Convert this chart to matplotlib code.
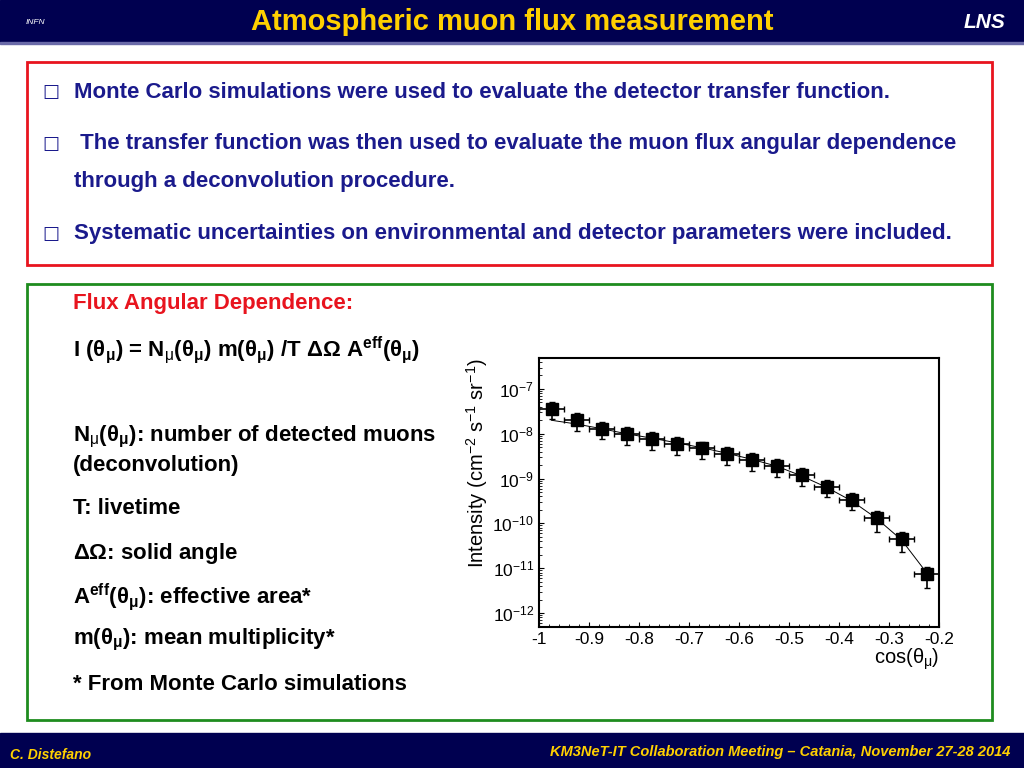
import numpy as np
import matplotlib.pyplot as plt
from matplotlib.patches import Rectangle

plt.rcParams['font.family'] = ['Liberation Sans', 'DejaVu Sans']
plt.rcParams['mathtext.fontset'] = 'custom'
plt.rcParams['mathtext.rm'] = 'Liberation Sans'
plt.rcParams['mathtext.it'] = 'Liberation Sans'
plt.rcParams['mathtext.bf'] = 'Liberation Sans:bold'

## Data ##
cos_theta = np.arange(-0.975, -0.2, 0.05)
intensity = np.array([3.6e-8, 2.0e-8, 1.3e-8, 9.8e-9, 7.6e-9, 5.9e-9, 4.7e-9, 3.5e-9,
                      2.6e-9, 1.9e-9, 1.2e-9, 6.6e-10, 3.4e-10, 1.3e-10, 4.6e-11, 7.4e-12])
err_up = intensity * 0.42
err_dn = intensity * 0.42
err_dn[-3:] = intensity[-3:] * 0.5
model = np.array([2.0e-8, 1.65e-8, 1.3e-8, 1.0e-8, 8.0e-9, 6.3e-9, 4.9e-9, 3.7e-9,
                  2.7e-9, 1.9e-9, 1.15e-9, 6.4e-10, 3.2e-10, 1.3e-10, 4.3e-11, 8.0e-12])

W, H = 1024, 768
fig = plt.figure(figsize=(10.24, 7.68), dpi=100)
navy = '#000050'

def fx(px): return px / W
def fy(py): return 1 - py / H

## Slide decoration ##
fig.patches.append(Rectangle((0, fy(42)), 1, 42 / H, transform=fig.transFigure, color=navy))
fig.patches.append(Rectangle((0, fy(44)), 1, 2 / H, transform=fig.transFigure, color='#6a6aa8'))
fig.patches.append(Rectangle((0, 0), 1, 35 / H, transform=fig.transFigure, color=navy))
fig.patches.append(Rectangle((fx(27), fy(265)), fx(965), 203 / H, transform=fig.transFigure,
                             fill=False, ec='#e8141e', lw=2))
fig.patches.append(Rectangle((fx(27), fy(720)), fx(965), 436 / H, transform=fig.transFigure,
                             fill=False, ec='#1e8c1e', lw=2))

fig.text(fx(512), fy(22), 'Atmospheric muon flux measurement', color='#ffd000',
         fontsize=21, fontweight='bold', ha='center', va='center')
fig.text(fx(985), fy(22), 'LNS', color='white', fontsize=15, fontweight='bold',
         style='italic', ha='center', va='center')
fig.text(fx(35), fy(22), 'INFN', color='white', fontsize=6, style='italic', ha='center', va='center')
fig.text(fx(10), fy(755), 'C. Distefano', color='#ffd000', fontsize=10, fontweight='bold',
         style='italic', va='center')
fig.text(fx(1010), fy(752), 'KM3NeT-IT Collaboration Meeting \u2013 Catania, November 27-28 2014',
         color='#ffd000', fontsize=10.5, fontweight='bold', style='italic', ha='right', va='center')

blue = '#1a1a8c'
fs = 16
bullets = [(92, 'Monte Carlo simulations were used to evaluate the detector transfer function.'),
           (144, ' The transfer function was then used to evaluate the muon flux angular dependence'),
           (234, 'Systematic uncertainties on environmental and detector parameters were included.')]
for py, t in bullets:
    fig.text(fx(42), fy(py), '\u25a1', color=blue, fontsize=13, va='center',
             family=['DejaVu Sans'])
    fig.text(fx(74), fy(py), t, color=blue, fontsize=fs, fontweight='bold', va='center')
fig.text(fx(74), fy(182), 'through a deconvolution procedure.', color=blue, fontsize=fs,
         fontweight='bold', va='center')

fig.text(fx(73), fy(304), 'Flux Angular Dependence:', color='#e8141e', fontsize=fs,
         fontweight='bold', va='center')
left_lines = [
    (350, r'I ($\mathbf{\theta_\mu}$) = N$_\mu$($\mathbf{\theta_\mu}$) m($\mathbf{\theta_\mu}$) /T $\mathbf{\Delta\Omega}$ A$^{\mathbf{eff}}$($\mathbf{\theta_\mu}$)'),
    (437, r'N$_\mu$($\mathbf{\theta_\mu}$): number of detected muons'),
    (466, '(deconvolution)'),
    (509, 'T: livetime'),
    (553, r'$\mathbf{\Delta\Omega}$: solid angle'),
    (597, r'A$^{\mathbf{eff}}$($\mathbf{\theta_\mu}$): effective area*'),
    (640, r'm($\mathbf{\theta_\mu}$): mean multiplicity*'),
    (684, '* From Monte Carlo simulations'),
]
for py, t in left_lines:
    fig.text(fx(73), fy(py), t, color='black', fontsize=fs, fontweight='bold', va='center')

## Plot ##
ax = fig.add_axes([fx(539), fy(627), fx(400), 269 / H])
ax.plot(cos_theta, model, '-', color='black', lw=0.7)
ax.errorbar(cos_theta, intensity, xerr=0.025, yerr=[err_dn, err_up], fmt='s', color='black',
            ms=9, capsize=2, elinewidth=1.2)
ax.set_yscale('log')
ax.set_xlim(-1, -0.2)
ax.set_ylim(10**-12.31, 10**-6.31)
ax.set_xticks(np.arange(-1, -0.15, 0.1))
ax.set_xticklabels(['-1', '-0.9', '-0.8', '-0.7', '-0.6', '-0.5', '-0.4', '-0.3', '-0.2'])
ax.tick_params(labelsize=12.5, direction='in', which='both')
ax.minorticks_on()
for s in ax.spines.values():
    s.set_linewidth(1.5)
ax.set_xlabel(r'cos($\theta_\mu$)', fontsize=14.5, loc='right', labelpad=0)
ax.set_ylabel(r'Intensity (cm$^{-2}$ s$^{-1}$ sr$^{-1}$)', fontsize=14.5, loc='top', labelpad=2)

fig.savefig('out.png', dpi=100)
